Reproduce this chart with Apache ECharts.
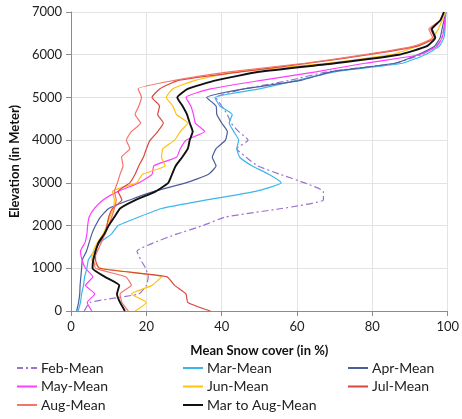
<!DOCTYPE html>
<html lang="en">
<head>
<meta charset="UTF-8">
<title>Mean snow cover by elevation</title>
<script src="https://cdn.jsdelivr.net/npm/echarts@6/dist/echarts.min.js"></script>
<style>
  html, body { margin: 0; padding: 0; background: #fff; }
</style>
</head>
<body>
<div id="main" style="width: 462px;height: 419px;"></div>
<script>
// elevation steps (m), shared by every series
var elevation = [0, 200, 400, 600, 800, 1000, 1200, 1400, 1600, 1800, 2000, 2200, 2400, 2600, 2800, 3000, 3200, 3400,
  3600, 3800, 4000, 4200, 4400, 4600, 4800, 5000, 5200, 5400, 5600, 5800, 6000, 6200, 6400, 6600, 6800, 7000];

// mean snow cover (%) at each elevation
var febMean = [3.5, 5, 18, 20, 20.5, 19.8, 18.5, 17.5, 22, 28, 35, 41, 56, 67, 67, 62, 55.5, 49.5,
  46.5, 44, 47, 44.5, 42.5, 41.5, 40, 38.5, 46, 58, 68, 86, 93, 97, 98.5, 99, 99.3, 99.5];
var marMean = [1.9, 2.5, 2.8, 3.3, 3.6, 4.2, 4.6, 6.2, 7.6, 10.7, 12.5, 18, 24, 36, 49, 55.8, 52.5, 48,
  44.8, 44, 44.5, 43.2, 42, 42.8, 39.5, 38.2, 50, 60, 70, 88, 94, 97.8, 99, 99.3, 99.4, 99.5];
var aprMean = [1.5, 2, 2.3, 2.4, 2.6, 2.8, 3, 4.1, 4.8, 5.5, 6.5, 7.8, 10, 15.6, 22, 30.5, 36.5, 38.5,
  37.5, 38.5, 41, 41.5, 40, 38.7, 38.5, 36, 46, 61, 69, 86, 92, 96.5, 98, 98.5, 99, 99.5];
var mayMean = [5.5, 4.3, 6.3, 3.8, 5.8, 3.8, 2.9, 2.5, 3.7, 4.2, 4.4, 4.8, 6.2, 8.5, 12.5, 18, 21.5, 22,
  28, 29, 30.5, 35.5, 33, 32.5, 31.8, 30.5, 37, 50.5, 65, 78, 92.5, 97.2, 98.5, 99, 99.2, 99.5];
var junMean = [17, 20, 16, 21.5, 24, 8, 5.5, 5.9, 7, 8.5, 9.5, 10.3, 11.2, 11.5, 11, 17.4, 19, 25,
  24, 24.4, 27.5, 29, 31, 28, 27, 25.3, 27, 33, 44, 68, 85, 92, 96, 97.5, 98.5, 99.5];
var julMean = [37, 31, 30.5, 27.5, 25.5, 7.5, 6.5, 6.5, 7.5, 9, 9.5, 10, 11, 13.5, 12.5, 15.6, 17, 18,
  19.2, 20, 21, 23, 24.5, 23, 23.5, 21.5, 23.5, 28.5, 45, 63, 79, 92, 96.5, 95.5, 98, 99];
var augMean = [15.2, 13.5, 13, 16, 14.5, 6.5, 6, 7, 8, 9, 10, 10.8, 11.5, 12, 11.5, 12.3, 13, 13.8,
  13.4, 15.6, 14.7, 16, 18.5, 17, 18, 18.7, 17.8, 27.5, 42, 62, 78, 91, 96, 95, 98, 99];
var marToAugMean = [14.3, 13, 12.2, 12.8, 9, 5.7, 5.9, 6.5, 7.3, 8.8, 10, 11.5, 13, 17.2, 22.5, 25.8, 26.8, 27.8,
  29.5, 31, 31.5, 32.3, 31.5, 30.8, 29.6, 28.2, 31, 38.5, 50, 70, 87, 94.5, 96.7, 95.8, 98, 99];

var solidIcon = 'path://M0,0h20v2h-20z';
var dashDotIcon = 'path://M0,0h6v2h-6zM9,0h2v2h-2zM14,0h6v2h-6z';

var seriesDefs = [
  { name: 'Feb-Mean', values: febMean, color: '#9b72cf', width: 1.2, type: [7, 3, 2, 3], icon: dashDotIcon },
  { name: 'Mar-Mean', values: marMean, color: '#3cb6ea', width: 1.2, type: 'solid', icon: solidIcon },
  { name: 'Apr-Mean', values: aprMean, color: '#4b5e98', width: 1.2, type: 'solid', icon: solidIcon },
  { name: 'May-Mean', values: mayMean, color: '#ff3cff', width: 1.2, type: 'solid', icon: solidIcon },
  { name: 'Jun-Mean', values: junMean, color: '#ffc20e', width: 1.2, type: 'solid', icon: solidIcon },
  { name: 'Jul-Mean', values: julMean, color: '#d9473f', width: 1.2, type: 'solid', icon: solidIcon },
  { name: 'Aug-Mean', values: augMean, color: '#f4736b', width: 1.2, type: 'solid', icon: solidIcon },
  { name: 'Mar to Aug-Mean', values: marToAugMean, color: '#111111', width: 1.9, type: 'solid', icon: solidIcon }
];

var font = 'Lato, "Open Sans", sans-serif';

var seriesList = seriesDefs.map(function (s) {
  return {
    name: s.name,
    type: 'line',
    symbol: 'none',
    smooth: 0.15,
    color: s.color,
    lineStyle: { color: s.color, width: s.width, type: s.type },
    data: s.values.map(function (v, i) { return [v, elevation[i]]; })
  };
});

function legendCol(left, names) {
  return {
    orient: 'vertical',
    left: left,
    top: 360,
    padding: 0,
    itemWidth: 20,
    itemHeight: 2,
    itemGap: 2.5,
    data: names.map(function (n) {
      var def = seriesDefs.filter(function (s) { return s.name === n; })[0];
      return { name: n, icon: def.icon };
    }),
    textStyle: { fontFamily: font, fontSize: 14, lineHeight: 16, color: '#222', padding: [0, 0, 0, -1] }
  };
}

var chart = echarts.init(document.getElementById('main'), null, { renderer: 'canvas' });
chart.setOption({
  animation: false,
  backgroundColor: '#fff',
  grid: { left: 71, right: 13, top: 12, bottom: 108 },
  legend: [
    legendCol(17, ['Feb-Mean', 'May-Mean', 'Aug-Mean']),
    legendCol(183, ['Mar-Mean', 'Jun-Mean', 'Mar to Aug-Mean']),
    legendCol(348, ['Apr-Mean', 'Jul-Mean'])
  ],
  xAxis: {
    type: 'value',
    min: 0,
    max: 100,
    interval: 20,
    name: 'Mean Snow cover (in %)',
    nameLocation: 'middle',
    nameGap: 33,
    nameTextStyle: { fontFamily: font, fontSize: 13, fontWeight: 'bold', color: '#111' },
    axisLine: { lineStyle: { color: '#8c8c8c', width: 1 } },
    axisTick: { show: true, length: 5, lineStyle: { color: '#8c8c8c' } },
    axisLabel: { fontFamily: font, fontSize: 13, color: '#222', margin: 9 },
    splitLine: { lineStyle: { color: '#e3e3e3', width: 1 } }
  },
  yAxis: {
    type: 'value',
    min: 0,
    max: 7000,
    interval: 1000,
    name: 'Elevation (in Meter)',
    nameLocation: 'middle',
    nameGap: 47,
    nameTextStyle: { fontFamily: font, fontSize: 13, fontWeight: 'bold', color: '#111' },
    axisLine: { show: true, lineStyle: { color: '#8c8c8c', width: 1 } },
    axisTick: { show: true, length: 5, lineStyle: { color: '#8c8c8c' } },
    axisLabel: {
      fontFamily: font, fontSize: 13, color: '#222', margin: 9,
      formatter: function (v) { return String(v); }
    },
    splitLine: { lineStyle: { color: '#e3e3e3', width: 1 } }
  },
  series: seriesList
});
</script>
</body>
</html>
